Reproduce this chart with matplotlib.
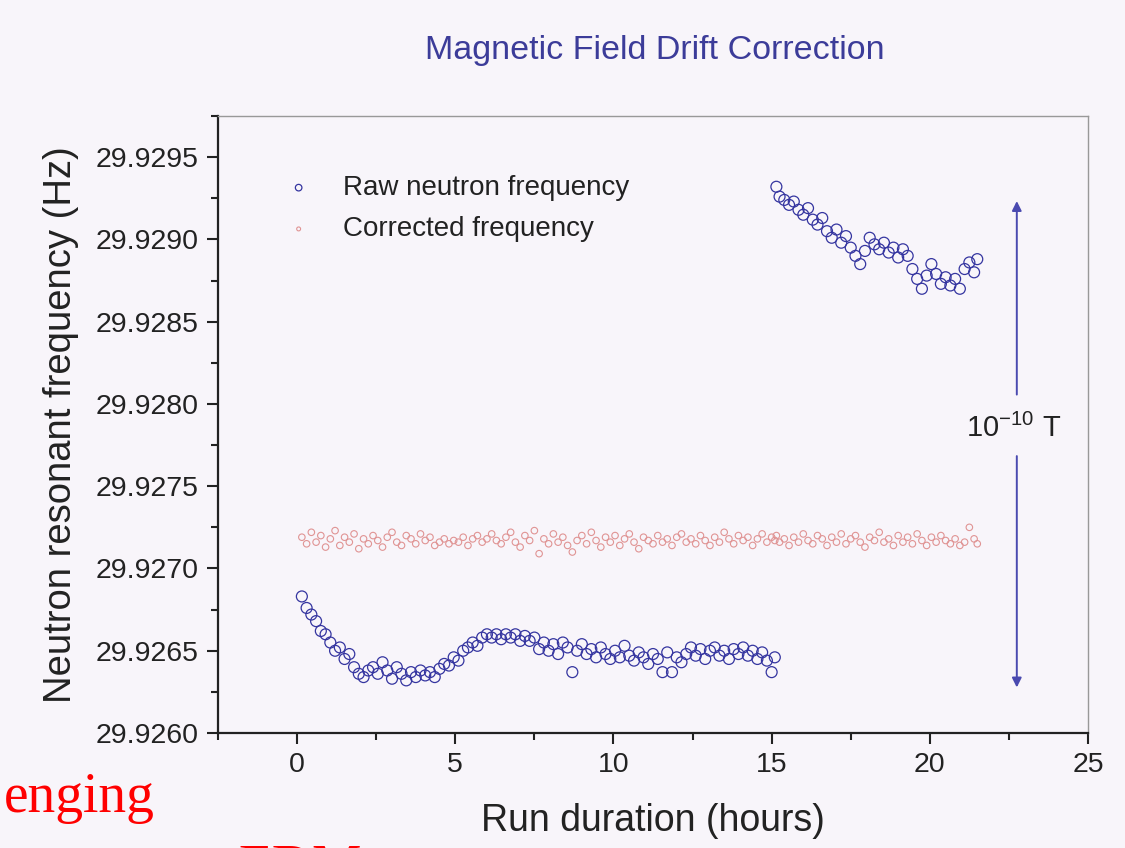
import matplotlib
matplotlib.use('Agg')
import matplotlib.pyplot as plt
from matplotlib.ticker import MultipleLocator, FormatStrFormatter

# raw neutron frequency, first run (hours, Hz)
t_run1 = [0.15, 0.30, 0.45, 0.60, 0.75, 0.90, 1.05, 1.20, 1.35, 1.50,
          1.65, 1.80, 1.95, 2.10, 2.25, 2.40, 2.55, 2.70, 2.85, 3.00,
          3.15, 3.30, 3.45, 3.60, 3.75, 3.90, 4.05, 4.20, 4.35, 4.50,
          4.65, 4.80, 4.95, 5.10, 5.25, 5.40, 5.55, 5.70, 5.85, 6.00,
          6.15, 6.30, 6.45, 6.60, 6.75, 6.90, 7.05, 7.20, 7.35, 7.50,
          7.65, 7.80, 7.95, 8.10, 8.25, 8.40, 8.55, 8.70, 8.85, 9.00,
          9.15, 9.30, 9.45, 9.60, 9.75, 9.90, 10.05, 10.20, 10.35, 10.50,
          10.65, 10.80, 10.95, 11.10, 11.25, 11.40, 11.55, 11.70, 11.85, 12.00,
          12.15, 12.30, 12.45, 12.60, 12.75, 12.90, 13.05, 13.20, 13.35, 13.50,
          13.65, 13.80, 13.95, 14.10, 14.25, 14.40, 14.55, 14.70, 14.85, 15.00,
          15.10]
f_run1 = [29.92683, 29.92676, 29.92672, 29.92668, 29.92662, 29.92660, 29.92655, 29.92650, 29.92652, 29.92645,
          29.92648, 29.92640, 29.92636, 29.92634, 29.92638, 29.92640, 29.92636, 29.92643, 29.92638, 29.92633,
          29.92640, 29.92636, 29.92632, 29.92637, 29.92634, 29.92638, 29.92635, 29.92637, 29.92634, 29.92639,
          29.92642, 29.92641, 29.92646, 29.92644, 29.92650, 29.92652, 29.92655, 29.92653, 29.92658, 29.92660,
          29.92658, 29.92660, 29.92657, 29.92660, 29.92658, 29.92660, 29.92656, 29.92659, 29.92656, 29.92658,
          29.92651, 29.92655, 29.92650, 29.92654, 29.92648, 29.92655, 29.92652, 29.92637, 29.92650, 29.92654,
          29.92648, 29.92651, 29.92646, 29.92652, 29.92648, 29.92645, 29.92650, 29.92646, 29.92653, 29.92647,
          29.92644, 29.92649, 29.92646, 29.92642, 29.92648, 29.92645, 29.92637, 29.92649, 29.92637, 29.92646,
          29.92643, 29.92648, 29.92652, 29.92647, 29.92651, 29.92645, 29.92650, 29.92652, 29.92647, 29.92650,
          29.92645, 29.92651, 29.92648, 29.92652, 29.92647, 29.92650, 29.92645, 29.92649, 29.92644, 29.92637,
          29.92646]

# raw neutron frequency, second run
t_run2 = [15.15, 15.25, 15.40, 15.55, 15.70, 15.85, 16.00, 16.15, 16.30, 16.45,
          16.60, 16.75, 16.90, 17.05, 17.20, 17.35, 17.50, 17.65, 17.80, 17.95,
          18.10, 18.25, 18.40, 18.55, 18.70, 18.85, 19.00, 19.15, 19.30, 19.45,
          19.60, 19.75, 19.90, 20.05, 20.20, 20.35, 20.50, 20.65, 20.80, 20.95,
          21.10, 21.25, 21.40, 21.50]
f_run2 = [29.92932, 29.92926, 29.92924, 29.92921, 29.92923, 29.92918, 29.92915, 29.92919, 29.92912, 29.92909,
          29.92913, 29.92905, 29.92901, 29.92906, 29.92898, 29.92902, 29.92895, 29.92890, 29.92885, 29.92893,
          29.92901, 29.92897, 29.92894, 29.92898, 29.92892, 29.92895, 29.92889, 29.92894, 29.92890, 29.92882,
          29.92876, 29.92870, 29.92878, 29.92885, 29.92879, 29.92873, 29.92877, 29.92872, 29.92876, 29.92870,
          29.92882, 29.92886, 29.92880, 29.92888]

# corrected frequency, one value for every raw point (run1 then run2)
f_corr = [29.92719, 29.92715, 29.92722, 29.92716, 29.92720, 29.92713, 29.92718, 29.92723, 29.92714, 29.92719,
          29.92716, 29.92721, 29.92712, 29.92718, 29.92715, 29.92720, 29.92717, 29.92713, 29.92719, 29.92722,
          29.92716, 29.92714, 29.92720, 29.92718, 29.92715, 29.92721, 29.92717, 29.92719, 29.92714, 29.92716,
          29.92718, 29.92715, 29.92717, 29.92716, 29.92719, 29.92714, 29.92718, 29.92720, 29.92716, 29.92718,
          29.92721, 29.92717, 29.92715, 29.92719, 29.92722, 29.92716, 29.92713, 29.92720, 29.92717, 29.92723,
          29.92709, 29.92718, 29.92715, 29.92721, 29.92716, 29.92719, 29.92714, 29.92710, 29.92717, 29.92720,
          29.92715, 29.92722, 29.92717, 29.92713, 29.92719, 29.92716, 29.92720, 29.92714, 29.92718, 29.92721,
          29.92716, 29.92712, 29.92719, 29.92717, 29.92715, 29.92720, 29.92716, 29.92718, 29.92714, 29.92719,
          29.92721, 29.92716, 29.92718, 29.92715, 29.92720, 29.92717, 29.92714, 29.92719, 29.92716, 29.92722,
          29.92718, 29.92715, 29.92720, 29.92717, 29.92719, 29.92714, 29.92718, 29.92721, 29.92716, 29.92719,
          29.92717,
          29.92720, 29.92716, 29.92718, 29.92714, 29.92719, 29.92716, 29.92721, 29.92717, 29.92715, 29.92720,
          29.92718, 29.92714, 29.92719, 29.92716, 29.92721, 29.92715, 29.92718, 29.92720, 29.92716, 29.92713,
          29.92719, 29.92717, 29.92722, 29.92716, 29.92718, 29.92714, 29.92720, 29.92716, 29.92719, 29.92715,
          29.92721, 29.92717, 29.92714, 29.92719, 29.92716, 29.92720, 29.92717, 29.92715, 29.92718, 29.92714,
          29.92716, 29.92725, 29.92718, 29.92715]
t_corr = t_run1 + t_run2

# the 1e-10 T span arrow (hours, Hz)
arrow_t = 22.75
arrow_top = [29.92804, 29.92925]
arrow_bottom = [29.92770, 29.92626]

bg = '#f8f5fa'
blue = '#3535a0'
pink = '#e09494'

plt.rcParams['font.family'] = ['Liberation Sans', 'DejaVu Sans']

fig = plt.figure(figsize=(11.25, 8.48), dpi=100, facecolor=bg)
ax = fig.add_axes([0.1938, 0.1356, 0.7733, 0.7276], facecolor=bg)

ax.scatter(t_run1 + t_run2, f_run1 + f_run2, s=62, facecolors='none',
           edgecolors=blue, linewidths=0.9, label='Raw neutron frequency', zorder=3)
ax.scatter(t_corr, f_corr, s=22, facecolors='none', edgecolors=pink,
           linewidths=0.8, label='Corrected frequency', zorder=2)

# arrow showing 1e-10 T
ax.annotate('', xy=(arrow_t, arrow_top[1]), xytext=(arrow_t, arrow_top[0]),
            arrowprops=dict(arrowstyle='-|>', color='#4a4ab0', lw=1.4, mutation_scale=14))
ax.annotate('', xy=(arrow_t, arrow_bottom[1]), xytext=(arrow_t, arrow_bottom[0]),
            arrowprops=dict(arrowstyle='-|>', color='#4a4ab0', lw=1.4, mutation_scale=14))
ax.text(arrow_t - 0.1, 29.92785, r'10$^{\mathregular{-10}}$ T', fontsize=21,
        ha='center', va='center', color='#222222')

ax.set_xlim(-2.5, 25)
ax.set_ylim(29.9260, 29.92975)
ax.xaxis.set_major_locator(MultipleLocator(5))
ax.xaxis.set_minor_locator(MultipleLocator(2.5))
ax.yaxis.set_major_locator(MultipleLocator(0.0005))
ax.yaxis.set_minor_locator(MultipleLocator(0.00025))
ax.yaxis.set_major_formatter(FormatStrFormatter('%.4f'))

ax.tick_params(which='both', direction='out', top=False, right=False,
               colors='#222222', width=1.5)
ax.tick_params(which='major', length=8, labelsize=20.5, pad=6)
ax.tick_params(which='minor', length=5)
for s in ['left', 'bottom']:
    ax.spines[s].set_linewidth(1.6)
    ax.spines[s].set_color('#222222')
for s in ['top', 'right']:
    ax.spines[s].set_linewidth(1.0)
    ax.spines[s].set_color('#999999')

ax.set_xlabel('Run duration (hours)', fontsize=27, color='#222222', labelpad=18)
ax.set_ylabel('Neutron resonant frequency (Hz)', fontsize=27.5, color='#222222', labelpad=12)

leg = ax.legend(loc='upper left', bbox_to_anchor=(0.032, 0.945), frameon=False,
                fontsize=20, markerscale=0.6, handletextpad=0.6, labelspacing=0.55)
for txt in leg.get_texts():
    txt.set_color('#222222')

fig.text(0.582, 0.94, 'Magnetic Field Drift Correction', fontsize=24.5,
         color='#3c3c99', ha='center', va='center')

# red slide text behind the figure
fig.text(0.003, 0.043, 'enging', fontsize=40, color='red',
         family=['Liberation Serif', 'DejaVu Serif'], ha='left', va='baseline')
fig.text(0.212, -0.042, 'EDM', fontsize=40, color='red',
         family=['Liberation Serif', 'DejaVu Serif'], ha='left', va='baseline')

plt.savefig('out.png', dpi=100, facecolor=bg)
